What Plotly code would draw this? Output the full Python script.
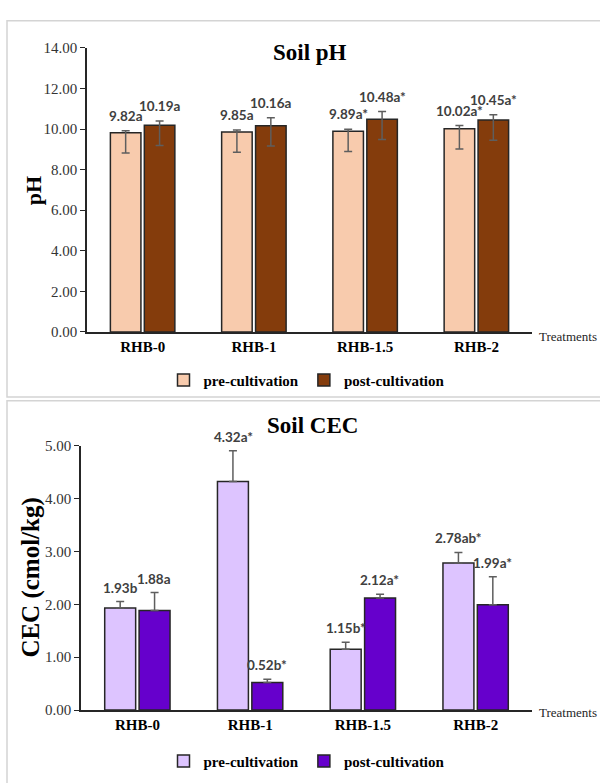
import plotly.graph_objects as go

# ---------------- data ----------------
treatments = ["RHB-0", "RHB-1", "RHB-1.5", "RHB-2"]
series_names = ["pre-cultivation", "post-cultivation"]

ph_pre = [9.82, 9.85, 9.89, 10.02]
ph_post = [10.19, 10.16, 10.48, 10.45]
ph_pre_err_plus = [0.10, 0.10, 0.10, 0.15]
ph_pre_err_minus = [1.00, 1.00, 1.00, 1.00]
ph_post_err_plus = [0.20, 0.40, 0.38, 0.26]
ph_post_err_minus = [1.00, 1.00, 1.00, 1.00]
ph_pre_labels = ["9.82a", "9.85a", "9.89a*", "10.02a*"]
ph_post_labels = ["10.19a", "10.16a", "10.48a*", "10.45a*"]

cec_pre = [1.93, 4.32, 1.15, 2.78]
cec_post = [1.88, 0.52, 2.12, 1.99]
cec_pre_err = [0.12, 0.58, 0.13, 0.20]
cec_post_err = [0.34, 0.06, 0.07, 0.53]
cec_pre_labels = ["1.93b", "4.32a*", "1.15b*", "2.78ab*"]
cec_post_labels = ["1.88a", "0.52b*", "2.12a*", "1.99a*"]

ph_ticks = [0, 2, 4, 6, 8, 10, 12, 14]
cec_ticks = [0, 1, 2, 3, 4, 5]

# ---------------- style ----------------
W, H = 600, 783
SERIF = "Liberation Serif, Times New Roman, serif"
SANS = "Lato, Noto Sans, sans-serif"
OUT = "#262626"
ERR = "#5e5e5e"
PH_COLORS = ["#F8CBAD", "#843C0C"]
CEC_COLORS = ["#DDC4FF", "#6600CC"]

def px_x(p):
    return p / W

def px_y(p):
    return 1 - p / H

fig = go.Figure()

def add_bars(xa, ya, legend, vals, errp, errm, color, name):
    err = dict(type="data", array=errp, color=ERR, thickness=1.5, width=4, visible=True,
               symmetric=False, arrayminus=errm if errm is not None else [0] * len(vals))
    fig.add_trace(go.Bar(
        x=treatments, y=vals, name=name, xaxis=xa, yaxis=ya, legend=legend,
        marker=dict(color=color, line=dict(color=OUT, width=1.5)),
        error_y=err, hoverinfo="y+name",
    ))

add_bars("x", "y", "legend", ph_pre, ph_pre_err_plus, ph_pre_err_minus, PH_COLORS[0], series_names[0])
add_bars("x", "y", "legend", ph_post, ph_post_err_plus, ph_post_err_minus, PH_COLORS[1], series_names[1])
add_bars("x2", "y2", "legend2", cec_pre, cec_pre_err, None, CEC_COLORS[0], series_names[0])
add_bars("x2", "y2", "legend2", cec_post, cec_post_err, None, CEC_COLORS[1], series_names[1])

annotations = []
BAR_OFF = 17
def add_labels(xref, yref, vals, errp, labels, shift, yshift):
    for t, v, e, lab in zip(treatments, vals, errp, labels):
        annotations.append(dict(
            x=t, y=v + e, xref=xref, yref=yref, text=lab, showarrow=False,
            xanchor="center", yanchor="bottom", xshift=shift, yshift=yshift,
            font=dict(family=SANS, size=13.5, color="#404040", weight="bold"),
        ))

add_labels("x", "y", ph_pre, ph_pre_err_plus, ph_pre_labels, -BAR_OFF, 5)
add_labels("x", "y", ph_post, ph_post_err_plus, ph_post_labels, BAR_OFF, 5)
add_labels("x2", "y2", cec_pre, cec_pre_err, cec_pre_labels, -BAR_OFF, 4)
add_labels("x2", "y2", cec_post, cec_post_err, cec_post_labels, BAR_OFF, 4)

def paper_text(x, y, text, size, angle=0, xanchor="center", color="black"):
    return dict(x=px_x(x), y=px_y(y), xref="paper", yref="paper", text=text,
                textangle=angle, xanchor=xanchor, yanchor="middle", showarrow=False,
                font=dict(family=SERIF, size=size, color=color))

annotations += [
    paper_text(310, 45, "<b>Soil pH</b>", 23),
    paper_text(313, 426, "<b>Soil CEC</b>", 23),
    paper_text(33, 187, "<b>pH</b>", 22, angle=-90),
    paper_text(31.5, 582, "<b>CEC (cmol/kg)</b>", 25, angle=-90),
    paper_text(537, 335, "Treatments", 13, xanchor="left", color="#262626"),
    paper_text(537, 719, "Treatments", 13, xanchor="left", color="#262626"),
]

shapes = [
    dict(type="rect", xref="paper", yref="paper", x0=px_x(7), x1=px_x(610), y0=px_y(397), y1=px_y(13),
         line=dict(color="#D4D4D4", width=1.5)),
    dict(type="rect", xref="paper", yref="paper", x0=px_x(7), x1=px_x(610), y0=px_y(800), y1=px_y(401),
         line=dict(color="#D4D4D4", width=1.5)),
]

xaxis_common = dict(
    type="category", showline=True, linecolor=OUT, linewidth=1.5, ticks="",
    tickfont=dict(family=SERIF, size=15, color="black", weight="bold"),
    showgrid=False, zeroline=False, fixedrange=True,
)
yaxis_common = dict(
    showline=True, linecolor=OUT, linewidth=1.5, ticks="outside", ticklen=5, tickcolor=OUT,
    tickformat=".2f", tickfont=dict(family=SERIF, size=15, color="#333333"),
    showgrid=False, zeroline=False, fixedrange=True,
)

legend_common = dict(
    orientation="h", xanchor="center", yanchor="middle", bgcolor="rgba(0,0,0,0)",
    font=dict(family=SERIF, size=15, color="black", weight="bold"),
    itemwidth=30, traceorder="normal",
)

fig.update_layout(
    width=W, height=H, margin=dict(l=0, r=0, t=0, b=0),
    paper_bgcolor="white", plot_bgcolor="white",
    barmode="group", bargap=0.39, bargroupgap=0.1,
    xaxis=dict(domain=[px_x(87), px_x(532)], anchor="y", **xaxis_common),
    yaxis=dict(domain=[px_y(330.7), px_y(40.7)], anchor="x", range=[0, 14], tickvals=ph_ticks, **yaxis_common),
    xaxis2=dict(domain=[px_x(81), px_x(532)], anchor="y2", **xaxis_common),
    yaxis2=dict(domain=[px_y(716.7), px_y(446.7)], anchor="x2", range=[0, 5], tickvals=cec_ticks, **yaxis_common),
    legend=dict(x=px_x(307), y=px_y(380), **legend_common),
    legend2=dict(x=px_x(307), y=px_y(769), **legend_common),
    annotations=annotations, shapes=shapes,
)

fig.write_html(
    "out.html",
    config={"displayModeBar": False},
    post_script="document.body.style.margin='0';document.body.style.overflow='hidden';",
)
